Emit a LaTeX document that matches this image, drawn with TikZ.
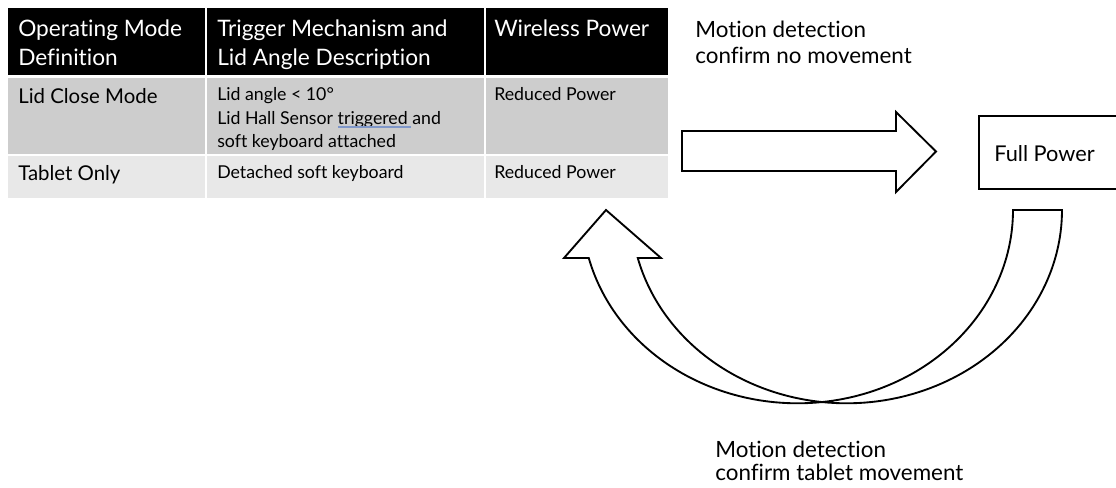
\documentclass[tikz,border=0pt]{standalone}
\usepackage{fontspec}
\setmainfont{Lato}[Ligatures=NoCommon]
\definecolor{rowA}{HTML}{CDCDCD}
\definecolor{rowB}{HTML}{E8E8E8}
\definecolor{squig}{HTML}{7F97C9}
\begin{document}
\begin{tikzpicture}[x=0.75pt,y=-0.75pt,
  big/.style={anchor=base west,inner sep=0pt,font=\fontsize{15.3}{18}\selectfont},
  head/.style={anchor=base west,inner sep=0pt,font=\fontsize{17}{20}\selectfont,text=white},
  lbl/.style={anchor=base west,inner sep=0pt,font=\fontsize{16.8}{20}\selectfont},
  small/.style={anchor=base west,inner sep=0pt,font=\fontsize{13.3}{16}\selectfont},
  outl/.style={draw=black,line width=1.4pt,fill=white,line join=miter}]
\useasboundingbox (0,0) rectangle (1116,487);
\clip (0,0) rectangle (1116,487);
% table cells
\fill[black] (8,8) rectangle (205,75);
\fill[black] (207,8) rectangle (484,75);
\fill[black] (486,8) rectangle (668,75);
\fill[rowA] (8,78) rectangle (205,154);
\fill[rowA] (207,78) rectangle (484,154);
\fill[rowA] (486,78) rectangle (668,154);
\fill[rowB] (8,156) rectangle (205,198);
\fill[rowB] (207,156) rectangle (484,198);
\fill[rowB] (486,156) rectangle (668,198);
% header text
\node[head] (h1a) at (18,36) {Operating Mode};
\node[head] (h1b) at (18,65) {Definition};
\node[head] (h2a) at (217,36) {Trigger Mechanism and};
\node[head] (h2b) at (217,65) {Lid Angle Description};
\node[head] (h3a) at (494,36) {Wireless Power};
% row 1
\node[big] (r1c1) at (18,103) {Lid Close Mode};
\node[small] (r1c2a) at (217,100) {Lid angle < 10°};
\node[small] (r1c2b) at (217,124) {Lid Hall Sensor triggered and};
\node[small] (r1c2c) at (217,147) {soft keyboard attached};
\node[small] (r1c3) at (494,100) {Reduced Power};
\draw[squig,line width=0.8pt] (r1c2b.base west) ++(121,3) -- ++(73,0);
% row 2
\node[big] (r2c1) at (18,180) {Tablet Only};
\node[small] (r2c2) at (217,178) {Detached soft keyboard};
\node[small] (r2c3) at (494,178) {Reduced Power};
% top label
\node[lbl] (m1a) at (695,37) {Motion detection};
\node[lbl] (m1b) at (695,63) {confirm no movement};
% right block arrow
\draw[outl] (682,131) -- (896,131) -- (896,112) -- (936,151.5) -- (896,192) -- (896,171) -- (682,171) -- cycle;
% Full Power box
\draw[outl] (979,116) rectangle (1130,189);
\node[lbl,font=\fontsize{16.3}{20}\selectfont] (fp) at (994,161) {Full Power};
% curved up arrow
\draw[outl]
  plot[domain=0:96.53,samples=60,variable=\t] ({846.5+215.5*cos(\t)},{210+193.3*sin(\t)})
  -- plot[domain=83.47:165.62,samples=60,variable=\t] ({797.5+215.5*cos(\t)},{210+193.3*sin(\t)})
  -- (564,258) -- (606,210) -- (661,258)
  -- plot[domain=165.62:96.53,samples=60,variable=\t] ({846.5+215.5*cos(\t)},{210+193.3*sin(\t)})
  -- plot[domain=83.47:0,samples=60,variable=\t] ({797.5+215.5*cos(\t)},{210+193.3*sin(\t)})
  -- cycle;
% bottom label
\node[lbl] (m2a) at (715,457) {Motion detection};
\node[lbl] (m2b) at (715,480) {confirm tablet movement};
\end{tikzpicture}
\end{document}
